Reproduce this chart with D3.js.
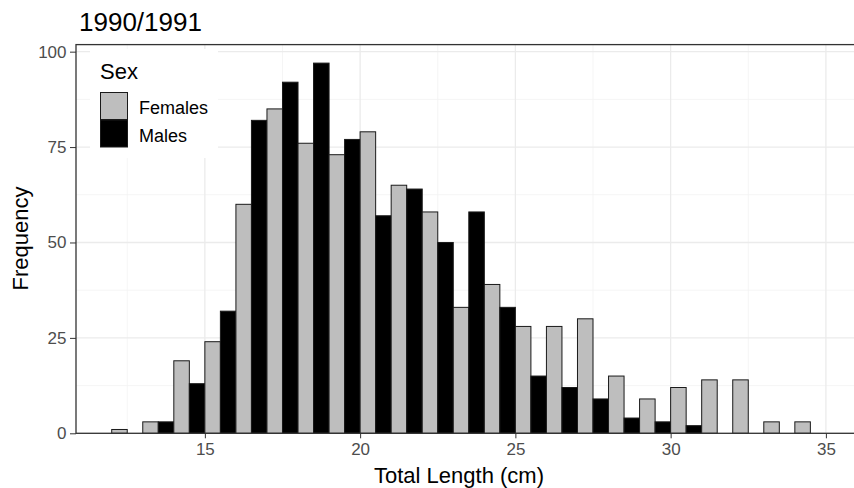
<!DOCTYPE html>
<html>
<head>
<meta charset="utf-8">
<script src="https://cdn.jsdelivr.net/npm/d3@7"></script>
<style>
  body { margin: 0; background: #fff; }
  svg { display: block; font-family: "Liberation Sans", Arial, sans-serif; }
</style>
</head>
<body>
<svg id="chart"></svg>
<script>
// bin start (cm), each bin is 1 cm wide
const bins = [12, 13, 14, 15, 16, 17, 18, 19, 20, 21, 22, 23, 24, 25, 26, 27, 28, 29, 30, 31, 32, 33, 34];
const females = [1, 3, 19, 24, 60, 85, 76, 73, 79, 65, 58, 33, 39, 28, 28, 30, 15, 9, 12, 14, 14, 3, 3];
const males   = [0, 3, 13, 32, 82, 92, 97, 77, 57, 64, 50, 58, 33, 15, 12, 9, 4, 3, 2, 0, 0, 0, 0];
const sexes = ['Females', 'Males'];
const xTicks = [15, 20, 25, 30, 35];
const yTicks = [0, 25, 50, 75, 100];
const title = '1990/1991';

class DodgedHistogram {
    constructor (config) {
        this.config = {
            parent: config.parent,
            width: config.width || 854,
            height: config.height || 488,
            left: 76, right: 861.6, top: 44.6, bottom: 433.3
        };
        this.init();
    }

    init() {
        let self = this;
        const c = self.config;

        self.svg = d3.select(c.parent)
            .attr('width', c.width)
            .attr('height', c.height);

        // ggplot style expansion: 5% on x, none below 0 on y
        self.xscale = d3.scaleLinear()
            .domain([10.85, 36.15])
            .range([c.left, c.right]);

        self.yscale = d3.scaleLinear()
            .domain([0, 101.85])
            .range([c.bottom, c.top]);

        self.color = d3.scaleOrdinal()
            .domain(sexes)
            .range(['#bebebe', '#000000']);

        self.data = [];
        bins.forEach((b, i) => {
            self.data.push({bin: b, sex: 'Females', n: females[i]});
            self.data.push({bin: b, sex: 'Males', n: males[i]});
        });
    }

    render() {
        let self = this;
        const c = self.config;
        const x = self.xscale, y = self.yscale;

        // grid
        const grid = self.svg.append('g');
        const xMinor = d3.range(12.5, 36, 5);
        const yMinor = d3.range(12.5, 100, 25);
        grid.selectAll('.xminor').data(xMinor).join('line')
            .attr('x1', d => x(d)).attr('x2', d => x(d))
            .attr('y1', c.top).attr('y2', c.bottom)
            .attr('stroke', '#f2f2f2').attr('stroke-width', 0.8);
        grid.selectAll('.yminor').data(yMinor).join('line')
            .attr('x1', c.left).attr('x2', c.right)
            .attr('y1', d => y(d)).attr('y2', d => y(d))
            .attr('stroke', '#f2f2f2').attr('stroke-width', 0.8);
        grid.selectAll('.xmajor').data(xTicks).join('line')
            .attr('x1', d => x(d)).attr('x2', d => x(d))
            .attr('y1', c.top).attr('y2', c.bottom)
            .attr('stroke', '#ebebeb').attr('stroke-width', 1.3);
        grid.selectAll('.ymajor').data(yTicks).join('line')
            .attr('x1', c.left).attr('x2', c.right)
            .attr('y1', d => y(d)).attr('y2', d => y(d))
            .attr('stroke', '#ebebeb').attr('stroke-width', 1.3);

        // bars
        self.svg.append('g')
            .selectAll('rect')
            .data(self.data.filter(d => d.n > 0))
            .join('rect')
            .attr('x', d => x(d.bin + (d.sex === 'Males' ? 0.5 : 0)))
            .attr('width', x(0.5) - x(0))
            .attr('y', d => y(d.n))
            .attr('height', d => y(0) - y(d.n))
            .attr('fill', d => self.color(d.sex))
            .attr('stroke', '#1a1a1a')
            .attr('stroke-width', 1);

        // axes
        const xaxis = d3.axisBottom(x).tickValues(xTicks).tickSize(5).tickSizeOuter(0).tickPadding(5);
        const yaxis = d3.axisLeft(y).tickValues(yTicks).tickSize(6).tickSizeOuter(0).tickPadding(3.5);

        const xg = self.svg.append('g')
            .attr('transform', `translate(0, ${c.bottom})`)
            .call(xaxis);
        const yg = self.svg.append('g')
            .attr('transform', `translate(${c.left}, 0)`)
            .call(yaxis);
        [xg, yg].forEach(g => {
            g.select('.domain').remove();
            g.selectAll('.tick line').attr('stroke', '#333').attr('stroke-width', 1);
            g.selectAll('.tick text')
                .attr('fill', '#4d4d4d')
                .attr('font-size', '17px')
                .attr('font-family', '"Liberation Sans", Arial, sans-serif');
        });

        // panel border
        self.svg.append('rect')
            .attr('x', c.left).attr('y', c.top)
            .attr('width', c.right - c.left).attr('height', c.bottom - c.top)
            .attr('fill', 'none')
            .attr('stroke', '#333')
            .attr('stroke-width', 1.3);

        // title + axis labels
        self.svg.append('text')
            .attr('x', 79).attr('y', 31)
            .attr('font-size', '26px')
            .attr('fill', '#000')
            .text(title);

        self.svg.append('text')
            .attr('x', 459).attr('y', 483)
            .attr('text-anchor', 'middle')
            .attr('font-size', '22px')
            .text('Total Length (cm)');

        self.svg.append('text')
            .attr('transform', 'rotate(-90)')
            .attr('x', -238.5).attr('y', 28)
            .attr('text-anchor', 'middle')
            .attr('font-size', '22px')
            .text('Frequency');

        // legend
        const legend = self.svg.append('g');
        legend.append('rect')
            .attr('x', 90).attr('y', 49)
            .attr('width', 128).attr('height', 109)
            .attr('fill', '#fff');
        legend.append('text')
            .attr('x', 100).attr('y', 78.5)
            .attr('font-size', '22px')
            .text('Sex');
        const item = legend.selectAll('.item')
            .data(sexes)
            .join('g')
            .attr('transform', (d, i) => `translate(100.5, ${92.5 + i * 27.5})`);
        item.append('rect')
            .attr('width', 27).attr('height', 27)
            .attr('fill', d => self.color(d))
            .attr('stroke', '#1a1a1a')
            .attr('stroke-width', 1);
        item.append('text')
            .attr('x', 38.5).attr('y', 21.5)
            .attr('font-size', '18px')
            .text(d => d);
    }
}

const chart = new DodgedHistogram({parent: '#chart', width: 854, height: 488});
chart.render();
</script>
</body>
</html>
